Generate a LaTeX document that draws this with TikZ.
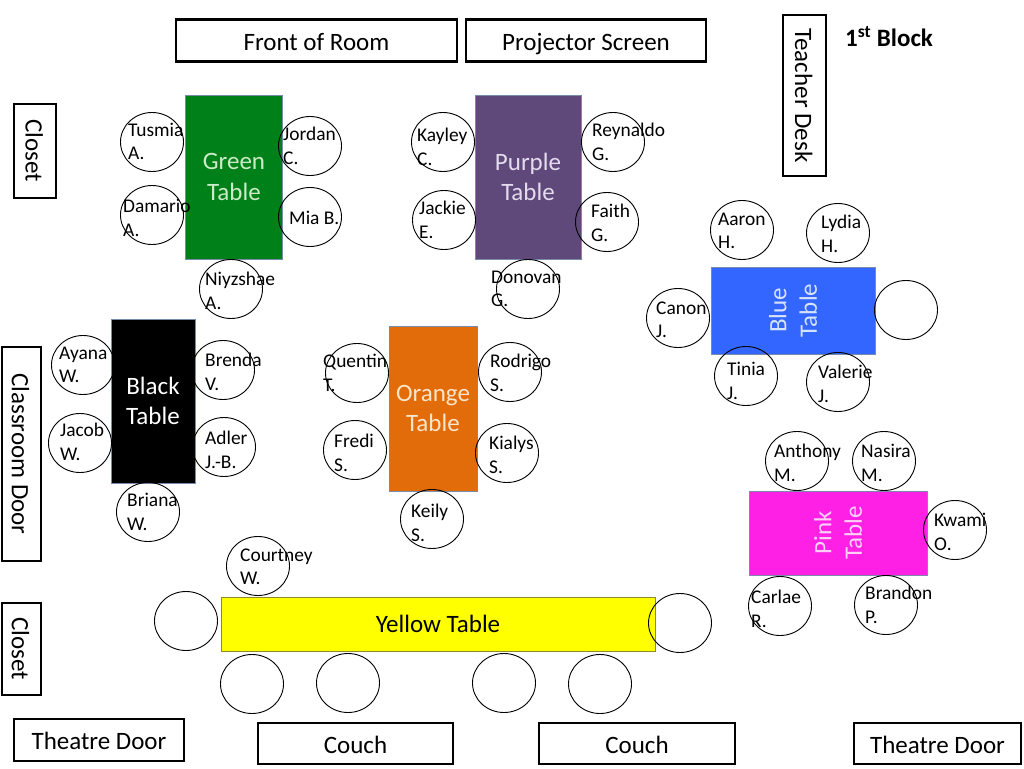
\documentclass[tikz,border=0pt]{standalone}
\usepackage{fontspec}
\setmainfont{Carlito}
\usetikzlibrary{shapes.geometric}
\definecolor{greenT}{RGB}{0,128,24}
\definecolor{greenTxt}{RGB}{205,235,200}
\definecolor{purpleT}{RGB}{95,73,122}
\definecolor{purpleTxt}{RGB}{228,220,238}
\definecolor{orangeT}{RGB}{227,108,10}
\definecolor{orangeTxt}{RGB}{252,228,200}
\definecolor{blueT}{RGB}{51,102,255}
\definecolor{blueTxt}{RGB}{214,227,255}
\definecolor{pinkT}{RGB}{255,32,230}
\definecolor{pinkTxt}{RGB}{255,208,245}
\definecolor{yellowT}{RGB}{255,255,0}
\definecolor{tableEdge}{RGB}{120,140,170}
\begin{document}
\begin{tikzpicture}[x=1pt,y=-1pt,
  roombox/.style={draw, line width=2.5pt, inner sep=0, text height=20pt, text depth=1pt, font=\fontsize{25}{30}\selectfont},
  tbl/.style={draw=tableEdge, line width=0.8pt, inner sep=0, align=center, font=\fontsize{25}{30.5}\selectfont},
  seat/.style={draw, ellipse, line width=0.9pt, minimum width=63, minimum height=59, inner sep=0},
  stu/.style={inner sep=0, align=left, anchor=west, font=\fontsize{19.4}{23.5}\selectfont}]
\useasboundingbox (0,0) rectangle (1024,768);
\fill[white] (0,0) rectangle (1024,768);

% room boxes
\node[roombox, minimum width=281, minimum height=42] (front) at (316.5,40.5) {Front of Room};
\node[roombox, minimum width=240, minimum height=42] (proj) at (586,40.5) {Projector Screen};
\node[roombox, rotate=-90, minimum width=161, minimum height=43] (desk) at (804.5,95.5) {Teacher Desk};
\node[roombox, rotate=-90, minimum width=94, minimum height=42] (closet1) at (35,151) {Closet};
\node[roombox, rotate=-90, minimum width=214, minimum height=39] (cdoor) at (21.5,454) {Classroom Door};
\node[roombox, rotate=-90, minimum width=92, minimum height=39] (closet2) at (21.5,649) {Closet};
\node[roombox, minimum width=170, minimum height=42] (tdoor1) at (99,740) {Theatre Door};
\node[roombox, minimum width=195, minimum height=41] (couch1) at (355.5,743.5) {Couch};
\node[roombox, minimum width=196, minimum height=41] (couch2) at (637,743.5) {Couch};
\node[roombox, minimum width=167, minimum height=41] (tdoor2) at (937.5,743.5) {Theatre Door};
\node[anchor=west, inner sep=0, font=\bfseries\fontsize{25}{30}\selectfont] (blk) at (845,37) {1\textsuperscript{st} Block};

% tables
\node[tbl, fill=greenT, text=greenTxt, minimum width=97, minimum height=164] (green) at (234,177) {Green\\Table};
\node[tbl, fill=purpleT, text=purpleTxt, minimum width=106, minimum height=164] (purple) at (528,177) {Purple\\Table};
\node[tbl, fill=black, text=white, minimum width=84, minimum height=164] (black) at (153,401) {Black\\Table};
\node[tbl, fill=orangeT, text=orangeTxt, minimum width=88, minimum height=165] (orange) at (433,408.5) {Orange\\Table};
\node[tbl, fill=blueT, text=blueTxt, rotate=90, minimum width=87, minimum height=164] (blue) at (793,310.5) {Blue\\Table};
\node[tbl, fill=pinkT, text=pinkTxt, rotate=90, minimum width=84, minimum height=178] (pink) at (838,533) {Pink\\Table};
\node[tbl, draw=olive!70!gray, fill=yellowT, text=black, minimum width=434, minimum height=54] (yellow) at (438,624) {Yellow Table};

% seats
\node[seat] (s1) at (152,142) {};
\node[seat] (s2) at (152,215) {};
\node[seat] (s3) at (310,146) {};
\node[seat] (s4) at (310,217) {};
\node[seat] (s5) at (231,289) {};
\node[seat] (s6) at (443,142) {};
\node[seat] (s7) at (444,220) {};
\node[seat] (s8) at (613,142) {};
\node[seat] (s9) at (607,222) {};
\node[seat] (s10) at (528,289) {};
\node[seat] (s11) at (742,230) {};
\node[seat] (s12) at (838,233) {};
\node[seat] (s13) at (678,318) {};
\node[seat] (s14) at (906,310) {};
\node[seat] (s15) at (746,376) {};
\node[seat] (s16) at (838,382) {};
\node[seat] (s17) at (83,365) {};
\node[seat] (s18) at (80,443) {};
\node[seat] (s19) at (223,370) {};
\node[seat] (s20) at (224,447) {};
\node[seat] (s21) at (148,512) {};
\node[seat] (s22) at (258,566) {};
\node[seat] (s23) at (357,373) {};
\node[seat] (s24) at (355,450) {};
\node[seat] (s25) at (510,372) {};
\node[seat] (s26) at (507,453) {};
\node[seat] (s27) at (432,519) {};
\node[seat] (s28) at (797,461) {};
\node[seat] (s29) at (884,461) {};
\node[seat] (s30) at (955,530) {};
\node[seat] (s31) at (780,606) {};
\node[seat] (s32) at (886,605) {};
\node[seat] (s33) at (186,621) {};
\node[seat] (s34) at (680,623) {};
\node[seat] (s35) at (252,684) {};
\node[seat] (s36) at (348,683) {};
\node[seat] (s37) at (504,683) {};
\node[seat] (s38) at (600,684) {};

% names
\node[stu] (t1) at (128,141.5) {Tusmia\\A.};
\node[stu] (t2) at (123,218) {Damario\\A.};
\node[stu] (t3) at (283,146) {Jordan\\C.};
\node[stu] (t4) at (289,218) {Mia B.};
\node[stu] (t5) at (205,291) {Niyzshae\\A.};
\node[stu] (t6) at (417,147) {Kayley\\C.};
\node[stu] (t7) at (419,220) {Jackie\\E.};
\node[stu] (t8) at (592,142) {Reynaldo\\G.};
\node[stu] (t9) at (591,223) {Faith\\G.};
\node[stu] (t10) at (491,289) {Donovan\\G.};
\node[stu] (t11) at (718,231) {Aaron\\H.};
\node[stu] (t12) at (821,234) {Lydia\\H.};
\node[stu] (t13) at (656,320) {Canon\\J.};
\node[stu] (t15) at (727,381) {Tinia\\J.};
\node[stu] (t16) at (818,384) {Valerie\\J.};
\node[stu] (t17) at (59,365) {Ayana\\W.};
\node[stu] (t18) at (60,442) {Jacob\\W.};
\node[stu] (t19) at (205,372) {Brenda\\V.};
\node[stu] (t20) at (205,450) {Adler\\J.-B.};
\node[stu] (t21) at (127,512) {Briana\\W.};
\node[stu] (t22) at (240,567) {Courtney\\W.};
\node[stu] (t23) at (323,373) {Quentin\\T.};
\node[stu] (t24) at (334,453) {Fredi\\S.};
\node[stu] (t25) at (490,373) {Rodrigo\\S.};
\node[stu] (t26) at (489,455) {Kialys\\S.};
\node[stu] (t27) at (411,523) {Keily\\S.};
\node[stu] (t28) at (774,463) {Anthony\\M.};
\node[stu] (t29) at (861,463) {Nasira\\M.};
\node[stu] (t30) at (934,532) {Kwami\\O.};
\node[stu] (t31) at (751,609) {Carlae\\R.};
\node[stu] (t32) at (865,605) {Brandon\\P.};
\end{tikzpicture}
\end{document}
